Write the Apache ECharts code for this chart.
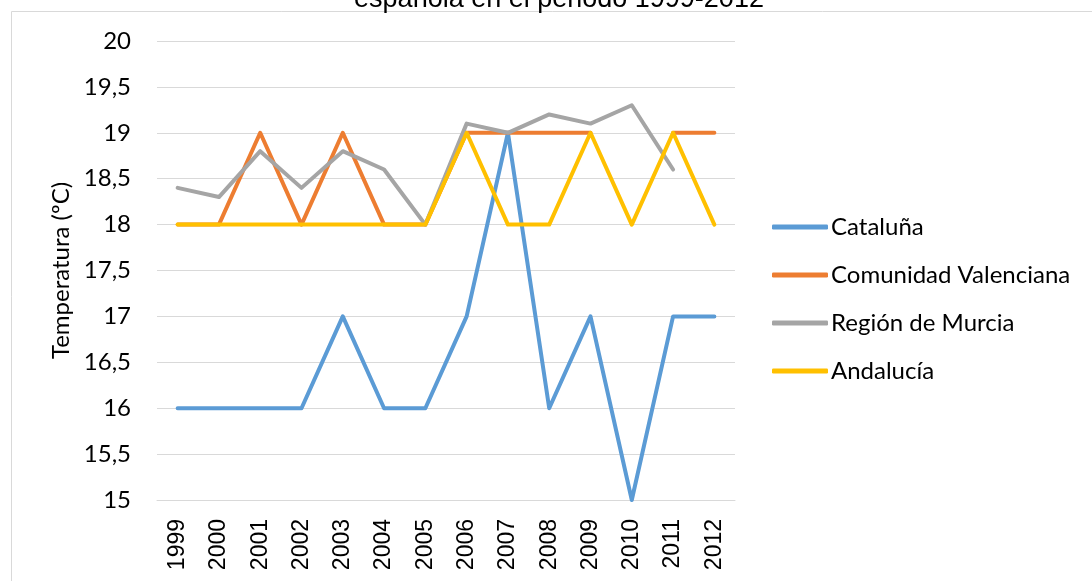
<!DOCTYPE html>
<html>
<head>
<meta charset="utf-8">
<script src="https://cdn.jsdelivr.net/npm/echarts@6/dist/echarts.min.js"></script>
<style>
  html, body { margin: 0; padding: 0; background: #fff; }
  #chart { width: 1092px; height: 581px; }
</style>
</head>
<body>
<div id="chart"></div>
<script>
const years = ['1999', '2000', '2001', '2002', '2003', '2004', '2005', '2006', '2007', '2008', '2009', '2010', '2011', '2012']
const cataluna = [16, 16, 16, 16, 17, 16, 16, 17, 19, 16, 17, 15, 17, 17]
const valenciana = [18, 18, 19, 18, 19, 18, 18, 19, 19, 19, 19, null, 19, 19]
const murcia = [18.4, 18.3, 18.8, 18.4, 18.8, 18.6, 18.0, 19.1, 19.0, 19.2, 19.1, 19.3, 18.6, null]
const andalucia = [18, 18, 18, 18, 18, 18, 18, 19, 18, 18, 19, 18, 19, 18]
const seriesNames = ['Cataluña', 'Comunidad Valenciana', 'Región de Murcia', 'Andalucía']
const colors = ['#5b9bd5', '#ed7d31', '#a5a5a5', '#ffc000']

const chart = echarts.init(document.getElementById('chart'))
const font = 'Lato, "Open Sans", sans-serif'

const mkLine = (name, data) => ({
  name: name,
  type: 'line',
  data: data,
  symbol: 'none',
  lineStyle: { width: 4, cap: 'round', join: 'round' },
  connectNulls: false,
  animation: false
})

const option = {
  color: colors,
  animation: false,
  graphic: [
    {
      type: 'rect',
      shape: { x: 11.5, y: 11.5, width: 1200, height: 700 },
      style: { fill: 'none', stroke: '#d9d9d9', lineWidth: 1 }
    },
    {
      type: 'text',
      x: 559,
      y: 0,
      style: {
        text: 'española en el periodo 1999-2012',
        font: '27px "Liberation Sans", Arial, sans-serif',
        fill: '#000',
        align: 'center',
        verticalAlign: 'middle'
      }
    }
  ],
  grid: { left: 157, right: 357, top: 41, bottom: 81 },
  legend: {
    orient: 'vertical',
    left: 767,
    top: 210,
    itemWidth: 56,
    itemHeight: 5,
    itemGap: 24,
    icon: 'roundRect',
    textStyle: { fontFamily: font, fontSize: 24, color: '#000', padding: [0, 0, 0, -2] },
    data: seriesNames
  },
  xAxis: {
    type: 'category',
    data: years,
    boundaryGap: true,
    axisLine: { lineStyle: { color: '#d9d9d9' } },
    axisTick: { show: false },
    axisLabel: {
      rotate: 90,
      margin: 19,
      fontFamily: '"Liberation Sans", Arial, sans-serif',
      fontSize: 23,
      color: '#000',
      interval: 0
    }
  },
  yAxis: {
    type: 'value',
    min: 15,
    max: 20,
    interval: 0.5,
    name: 'Temperatura (ºC)',
    nameLocation: 'middle',
    nameGap: 83,
    nameTextStyle: { fontFamily: font, fontSize: 24, color: '#000' },
    axisLine: { show: false },
    axisTick: { show: false },
    splitLine: { lineStyle: { color: '#d9d9d9', width: 1 } },
    axisLabel: {
      margin: 26,
      fontFamily: font,
      fontSize: 24,
      color: '#000',
      formatter: v => String(v).replace('.', ',')
    }
  },
  series: [
    mkLine(seriesNames[0], cataluna),
    mkLine(seriesNames[1], valenciana),
    mkLine(seriesNames[2], murcia),
    mkLine(seriesNames[3], andalucia)
  ]
}
chart.setOption(option)
</script>
</body>
</html>
